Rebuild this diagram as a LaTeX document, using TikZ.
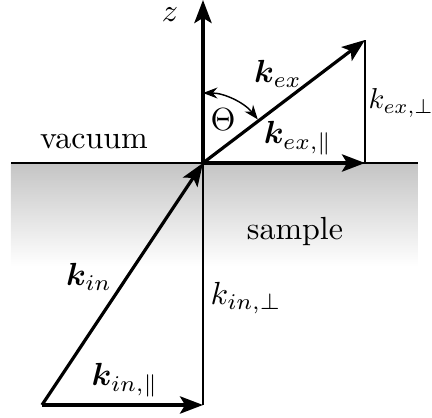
\documentclass[tikz,border=0pt]{standalone}
\usepackage{amsmath}
\usepackage{bm}
\usetikzlibrary{arrows.meta}
\tikzset{
  vec/.style={line width=1pt,-{Stealth[length=7.2pt,width=5.4pt,inset=1.6pt]}},
  thinline/.style={line width=0.45pt},
  lbl/.style={inner sep=0pt}
}
\begin{document}
\begin{tikzpicture}[x=0.3125pt,y=0.3125pt]
\useasboundingbox (0,0) rectangle (432,418);
% sample shading
\shade[top color=black!23,bottom color=white] (11,152) rectangle (418,255);
% coordinates
\coordinate (O) at (203,255);
\coordinate (ztop) at (203,418);
\coordinate (kex) at (365,378);
\coordinate (kexp) at (365,255);
\coordinate (kin) at (42,13);
\coordinate (kinp) at (203,13);
\coordinate (sl) at (11,255);
\coordinate (sr) at (418,255);
% surface
\draw[thinline] (sl) -- (sr);
% perpendicular components
\draw[thinline] (kex) -- (kexp);
\draw[thinline] (O) -- (kinp);
% vectors
\draw[vec] (O) -- (ztop);
\draw[vec] (O) -- (kex);
\draw[vec] (O) -- (kexp);
\draw[vec] (kin) -- (O);
\draw[vec] (kin) -- (kinp);
% angle
\draw[line width=0.45pt,{Stealth[length=4.5pt,width=3.4pt]}-{Stealth[length=4.5pt,width=3.4pt]}] ([shift={(90:70)}]O) arc[start angle=90,end angle=38.5,radius=70];
% labels
\node[lbl] (zl) at (170,403) {$z$};
\node[lbl] (thl) at (223,298) {$\Theta$};
\node[lbl] (kexl) at (278,344) {$\bm{k}_{ex}$};
\node[lbl] (kexpl) at (298,280) {$\bm{k}_{ex,\parallel}$};
\node[lbl,anchor=west,scale=0.9] (kexperp) at (368,315) {$k_{ex,\perp}$};
\node[lbl] (vac) at (94,276) {vacuum};
\node[lbl] (samp) at (295,186) {sample};
\node[lbl] (kinl) at (89,141) {$\bm{k}_{in}$};
\node[lbl] (kinperp) at (246,120) {$k_{in,\perp}$};
\node[lbl] (kinpl) at (125,38) {$\bm{k}_{in,\parallel}$};
\end{tikzpicture}
\end{document}
